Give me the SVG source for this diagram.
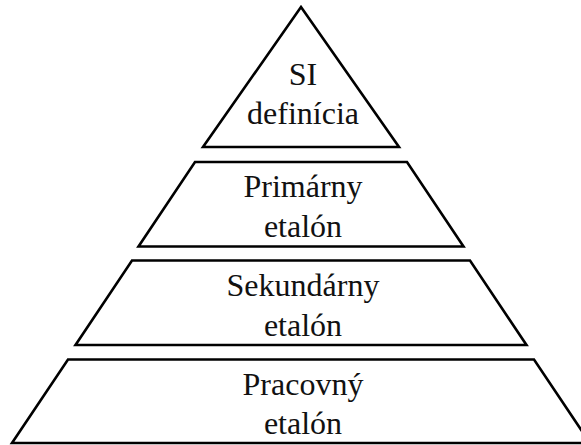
<svg xmlns="http://www.w3.org/2000/svg" width="581" height="445" viewBox="0 0 581 445">
<style>
.lvl{fill:#fff;stroke:#000;stroke-width:2.6;stroke-linejoin:miter}
.t{font-family:"Liberation Serif","Times New Roman",serif;font-size:32px;fill:#111;text-anchor:middle}
</style>
<rect width="581" height="445" fill="#fff"/>
<g id="si-definicia">
<polygon class="lvl" points="301,7 399,147 203,147"/>
<text class="t" x="303" y="85">SI</text>
<text class="t" x="303" y="124">definícia</text>
</g>
<g id="primarny-etalon">
<polygon class="lvl" points="195,162 407,162 463.5,246.5 138.5,246.5"/>
<text class="t" x="303" y="197">Primárny</text>
<text class="t" x="303" y="237">etalón</text>
</g>
<g id="sekundarny-etalon">
<polygon class="lvl" points="132,260.5 470,260.5 526.5,345 75.5,345"/>
<text class="t" x="303" y="296">Sekundárny</text>
<text class="t" x="303" y="336">etalón</text>
</g>
<g id="pracovny-etalon">
<polygon class="lvl" points="68,359.5 534,359.5 590,443 12,443"/>
<text class="t" x="303" y="395">Pracovný</text>
<text class="t" x="303" y="434">etalón</text>
</g>
<g id="connectors"></g>
</svg>
